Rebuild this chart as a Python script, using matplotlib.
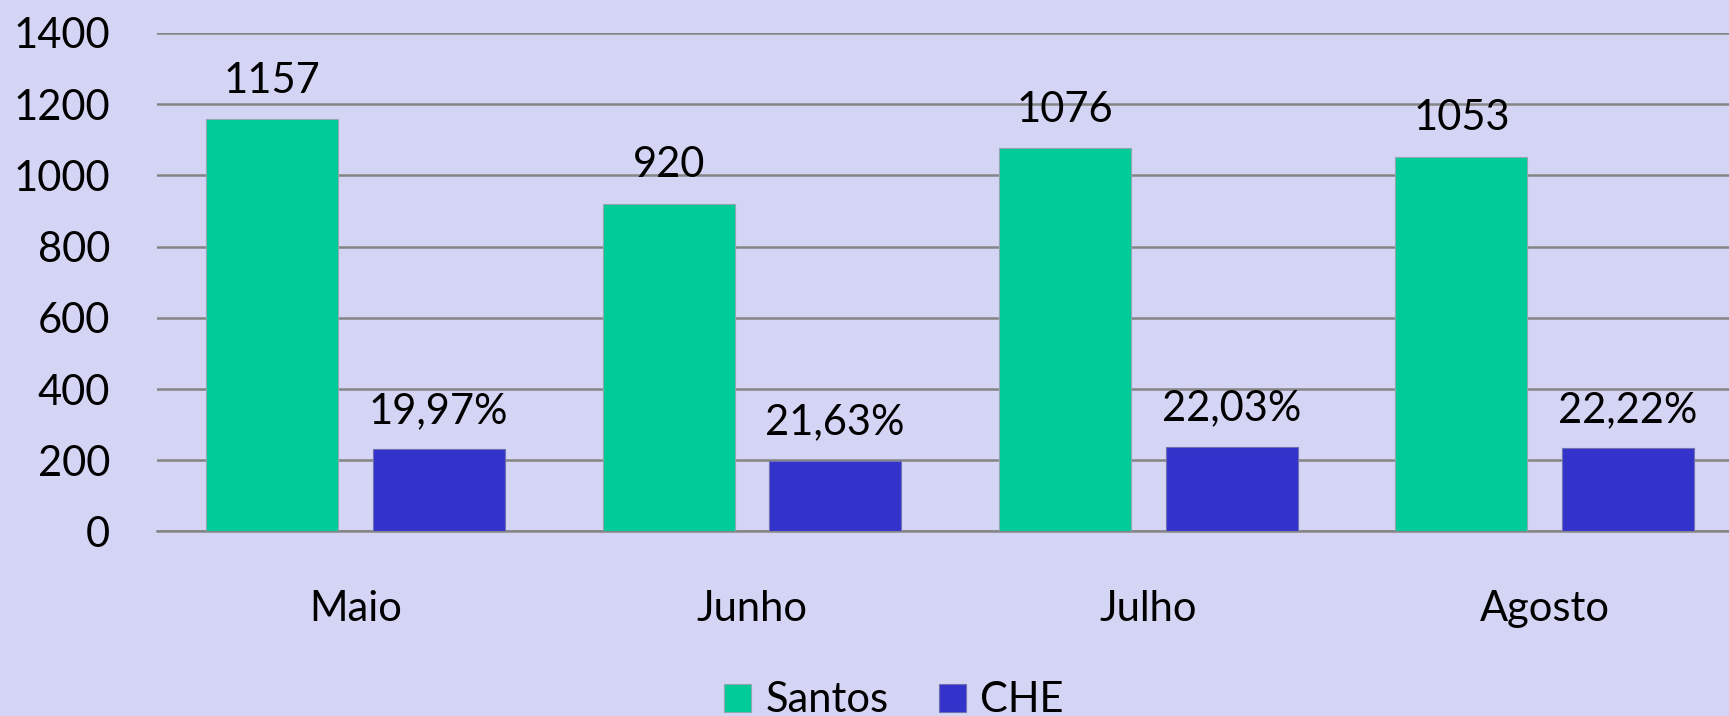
import matplotlib.pyplot as plt
import numpy as np

# data
meses = ['Maio', 'Junho', 'Julho', 'Agosto']
santos = [1157, 920, 1076, 1053]
che = [231, 199, 237, 234]          # bar heights
che_pct = ['19,97%', '21,63%', '22,03%', '22,22%']

plt.rcParams['font.family'] = ['Lato', 'DejaVu Sans']

bg = '#D4D4F4'
fig = plt.figure(figsize=(17.29, 7.16), dpi=100, facecolor=bg)
# plot area runs a bit past the right edge, like the original
ax = fig.add_axes([0.091, 0.2577, 0.917, 0.6963])
ax.set_facecolor(bg)

x = np.arange(len(meses))
w = 0.333
off = 0.21
b1 = ax.bar(x - off, santos, w, color='#00CC99', edgecolor='#8fa8b0', linewidth=0.8, label='Santos', zorder=3)
b2 = ax.bar(x + off, che, w, color='#3333CC', edgecolor='#7070b0', linewidth=0.8, label='CHE', zorder=3)

for rect, v in zip(b1, santos):
    ax.annotate(str(v), (rect.get_x() + rect.get_width() / 2, rect.get_height()),
                xytext=(0, 14), textcoords='offset points', ha='center', va='bottom', fontsize=30)
for rect, t in zip(b2, che_pct):
    ax.annotate(t, (rect.get_x() + rect.get_width() / 2, rect.get_height()),
                xytext=(0, 14), textcoords='offset points', ha='center', va='bottom', fontsize=30)

ax.set_xlim(-0.5, 3.5)
ax.set_ylim(0, 1400)
ax.set_yticks(range(0, 1401, 200))
ax.set_xticks(x)
ax.set_xticklabels(meses)
ax.tick_params(axis='both', length=0, labelsize=30)
ax.tick_params(axis='y', pad=34)
ax.tick_params(axis='x', pad=42)
ax.grid(axis='y', color='#858585', linewidth=1.8, zorder=0)
for s in ['top', 'right', 'left']:
    ax.spines[s].set_visible(False)
ax.spines['bottom'].set_color('#858585')
ax.spines['bottom'].set_linewidth(1.8)

fig.legend(loc='center', bbox_to_anchor=(0.517, 0.022), ncol=2, frameon=False,
           fontsize=30, handlelength=0.65, handleheight=0.65, handletextpad=0.35,
           columnspacing=1.2)

fig.savefig('out.png', dpi=100, facecolor=bg)
